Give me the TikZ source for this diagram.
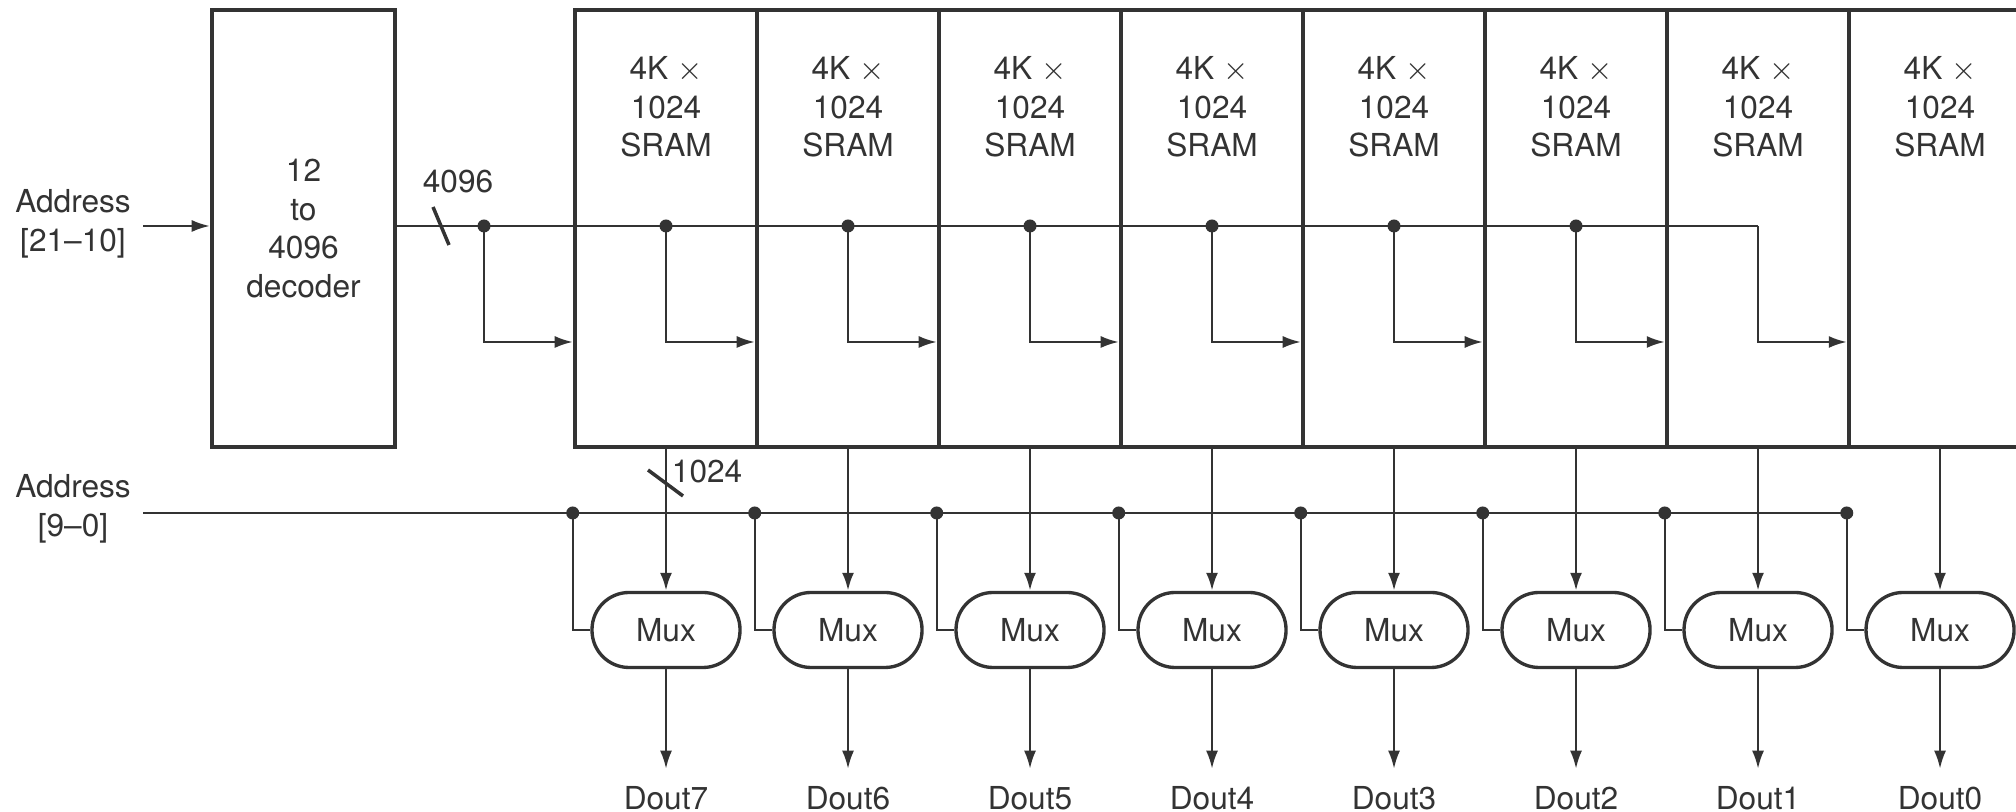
\documentclass[tikz,border=0pt]{standalone}
\usepackage{fontspec}
\setmainfont{TeX Gyre Heros}
\usetikzlibrary{arrows.meta}
\definecolor{ink}{HTML}{333333}

\begin{document}
\begin{tikzpicture}[
    font=\fontsize{9}{11}\selectfont,
    every node/.style={text=ink},
    wire/.style={draw=ink, line width=0.6pt},
    arr/.style={wire, -{Latex[length=1.8mm,width=1.2mm]}},
    box/.style={draw=ink, line width=1.3pt, minimum width=1.82cm, minimum height=4.37cm, inner sep=0pt},
    muxbox/.style={draw=ink, line width=0.95pt, rounded corners=0.37cm, minimum width=1.48cm, minimum height=0.75cm, inner sep=0pt},
    dot/.style={fill=ink, circle, inner sep=0pt, minimum size=0.13cm},
    slash/.style={draw=ink, line width=1pt}
]
\useasboundingbox (0,0) rectangle (20.16,8.12);

% address inputs
\node[align=center] (addrhi) at (0.73,5.88) {Address\\{[21–10]}};
\node[align=center] (addrlo) at (0.73,3.03) {Address\\{[9–0]}};

% decoder
\node[box, minimum width=1.83cm] (dec) at (3.035,5.835) {};
\node[align=center] at (dec) {12\\to\\4096\\decoder};
\coordinate (tap0) at (4.84,5.86);
\draw[arr] (addrhi.east |- tap0) -- (dec.west |- tap0);

% SRAM columns, muxes and outputs
\foreach \k [evaluate=\k as \n using int(7-\k)] in {0,...,7} {
  \node[box] (s\k) at ({6.66+1.82*\k},5.835) {};
  \node[align=center] at ({6.66+1.82*\k},7.05) {4K $\times$\\1024\\SRAM};
  \node[muxbox] (m\k) at ({6.66+1.82*\k},1.82) {Mux};
  \node[anchor=base, inner sep=5pt] (o\k) at ({6.66+1.82*\k},0.02) {Dout\n};
  \coordinate (tap\k) at ({4.84+1.82*\k},5.86);
  \coordinate (sel\k) at (s\k.south west |- 0,2.99);
  \draw[arr, line width=0.8pt] (s\k.south) -- (m\k.north);
  \draw[arr] (m\k.south) -- (o\k.north);
}

% decoder bus
\draw[wire] (dec.east |- tap0) -- (tap7);
\foreach \k in {0,...,7}
  \draw[arr] (tap\k) |- (s\k.west |- 0,4.70);
\foreach \k in {0,...,6}
  \node[dot] at (tap\k) {};
\draw[slash] (4.33,6.05) -- (4.49,5.67);
\node (w4096) at (4.58,6.30) {4096};

% column select line
\draw[wire] (addrlo.east |- sel0) -- (sel7);
\foreach \k in {0,...,7} {
  \draw[wire] (sel\k) |- (m\k.west);
  \node[dot] at (sel\k) {};
}
\draw[slash] (6.48,3.42) -- (6.83,3.16);
\node[anchor=west, inner sep=1.5pt] (w1024) at (s0.south |- 0,3.40) {1024};
\end{tikzpicture}
\end{document}
